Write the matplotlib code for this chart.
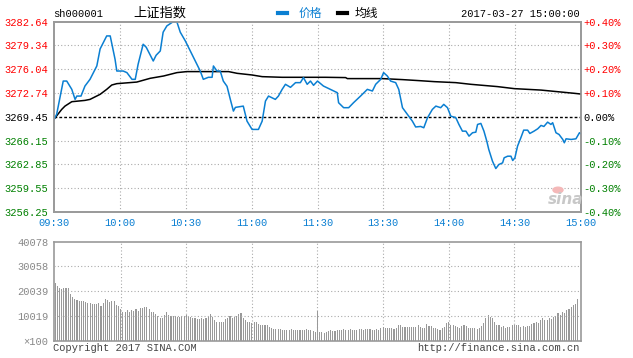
import matplotlib
matplotlib.use("Agg")
import matplotlib.pyplot as plt
from matplotlib.lines import Line2D
from matplotlib.patches import Circle

# --- dados (sh000001, 2017-03-27) ---
PREV_CLOSE = 3269.45
price_ticks = [3256.25, 3259.55, 3262.85, 3266.15, 3269.45, 3272.74, 3276.04, 3279.34, 3282.64]
pct_labels = ['-0.40%', '-0.30%', '-0.20%', '-0.10%', '0.00%', '+0.10%', '+0.20%', '+0.30%', '+0.40%']
time_ticks = [0, 30, 60, 90, 120, 150, 180, 210, 240]
time_labels = ['09:30', '10:00', '10:30', '11:00', '11:30', '13:30', '14:00', '14:30', '15:00']
vol_ticks = [0, 10019, 20039, 30058, 40078]
vol_labels = ['\u00d7100', '10019', '20039', '30058', '40078']

# minutos desde 09:30 (pregao continuo, 240 min)
price_min = [0, 1.2, 2.7, 4.2, 5.8, 8.1, 9.6, 10.4, 12.3, 14.1, 16.4, 19.5, 21.0, 24.0, 25.6,
             27.8, 28.6, 31.5, 33.2, 35.5, 37.0, 38.3, 40.6, 42.0, 45.2, 46.5, 48.4, 49.7,
             51.4, 54.3, 56.0, 57.5, 59.8, 62.8, 65.1, 66.6, 68.0, 70.3, 72.0, 72.6, 74.2,
             75.7, 77.1, 78.8, 80.3, 81.7, 82.6, 86.2, 87.9, 90.2, 93.1, 94.8, 96.3, 97.7,
             100.8, 102.2, 103.9, 105.4, 107.7, 110.0, 112.2, 113.6, 115.3, 116.8, 118.2,
             120.0, 122.7, 125.9, 129.0, 129.6, 131.9, 134.2, 136.4, 139.6, 142.7, 145.0,
             146.5, 148.8, 150.1, 151.8, 153.3, 155.6, 157.0, 158.7, 161.5, 163.2, 164.7,
             167.0, 168.4, 170.1, 172.3, 173.9, 176.1, 177.5, 179.2, 180.7, 183.0, 184.4,
             186.0, 187.6, 189.0, 190.6, 192.1, 192.9, 194.4, 195.8, 197.1, 198.0, 199.7,
             201.2, 202.6, 204.3, 205.0, 206.6, 208.1, 208.9, 209.9, 211.1, 212.6, 213.9,
             215.7, 216.7, 218.6, 220.3, 221.8, 223.1, 224.8, 226.3, 227.1, 228.6, 230.0,
             231.7, 232.4, 233.2, 235.5, 237.7, 239.3, 240.0]
price_val = [3269.08, 3269.77, 3272.09, 3274.39, 3274.39, 3273.24, 3271.85, 3272.31, 3272.31,
             3273.70, 3274.63, 3276.48, 3278.84, 3280.64, 3280.64, 3277.41, 3275.78, 3275.78,
             3275.56, 3274.63, 3274.63, 3276.71, 3279.49, 3279.07, 3277.17, 3277.96, 3278.56,
             3281.16, 3282.03, 3282.62, 3282.55, 3281.16, 3279.95, 3278.10, 3276.71, 3275.78,
             3274.63, 3274.91, 3274.91, 3276.48, 3275.78, 3275.78, 3274.39, 3273.66, 3271.85,
             3270.23, 3270.74, 3270.92, 3268.84, 3267.69, 3267.69, 3268.84, 3271.62, 3272.31,
             3271.85, 3272.31, 3273.24, 3273.94, 3273.52, 3274.17, 3274.17, 3274.87, 3273.94,
             3274.39, 3273.80, 3274.39, 3273.70, 3273.24, 3272.78, 3271.39, 3270.70, 3270.70,
             3271.39, 3272.31, 3273.24, 3273.01, 3273.94, 3274.63, 3275.56, 3275.09, 3274.39,
             3274.17, 3273.24, 3270.70, 3269.53, 3268.84, 3268.03, 3268.10, 3267.92, 3269.31,
             3270.46, 3270.92, 3270.70, 3271.16, 3270.70, 3269.53, 3269.31, 3268.38, 3267.45,
             3267.45, 3266.76, 3267.23, 3267.31, 3268.38, 3268.52, 3267.45, 3266.06, 3264.91,
             3263.28, 3262.27, 3262.83, 3263.06, 3263.76, 3263.98, 3263.98, 3263.38, 3263.76,
             3265.37, 3266.53, 3267.59, 3267.59, 3267.13, 3267.45, 3267.78, 3268.24, 3268.10,
             3268.70, 3268.38, 3268.62, 3267.23, 3266.99, 3266.30, 3265.84, 3266.39, 3266.30,
             3266.39, 3267.23, 3267.09]

avg_min = [0, 3.5, 5.0, 8.1, 14.1, 16.4, 21.0, 24.0, 26.3, 28.6, 37.7, 43.8, 49.9, 56.0,
           60.5, 79.5, 83.4, 90.2, 94.8, 103.9, 123.7, 132.8, 133.6, 149.5, 158.7, 166.2,
           173.1, 183.0, 189.8, 202.0, 209.6, 221.8, 237.0, 240.0]
avg_val = [3269.10, 3270.46, 3270.92, 3271.53, 3271.71, 3271.85, 3272.55, 3273.24, 3273.84,
           3274.03, 3274.25, 3274.77, 3275.09, 3275.56, 3275.70, 3275.70, 3275.46, 3275.23,
           3275.00, 3274.91, 3274.91, 3274.87, 3274.73, 3274.73, 3274.59, 3274.45, 3274.31,
           3274.17, 3273.94, 3273.62, 3273.34, 3273.14, 3272.69, 3272.59]

# volume por minuto (x100)
volume = [23300, 22000, 21300, 20900, 21300, 21300, 21400, 19000, 17900, 16900,
          16500, 16300, 16300, 16100, 15900, 15500, 15200, 14900, 14900, 14800,
          15200, 14100, 15500, 16800, 16500, 15900, 16300, 16100, 14500, 14100,
          12900, 11800, 11800, 12500, 11800, 12500, 12100, 12800, 12100, 13200,
          13400, 13800, 13600, 12900, 11800, 11800, 10900, 10100, 9100, 9100,
          10500, 11700, 10500, 10100, 10100, 10100, 9600, 9600, 10100, 10100,
          10500, 9600, 9600, 9100, 9100, 8700, 8700, 9100, 8700, 9100,
          9600, 10800, 9600, 8500, 7800, 7800, 7800, 7800, 8700, 9400,
          10100, 9100, 9800, 10100, 10800, 11200, 9100, 8500, 7800, 7800,
          7400, 7800, 7500, 6700, 6500, 6500, 6500, 6500, 5800, 5100,
          4800, 4700, 4700, 4700, 4500, 4400, 4400, 4400, 4700, 4400,
          4400, 4400, 4400, 4400, 4400, 4700, 4400, 4400, 4000, 3800,
          12100,
          3770, 3770, 3360, 3770, 4170, 4440, 4170, 4170, 4440, 4440,
          4440, 4840, 4440, 4440, 4840, 4440, 4440, 4440, 4840, 4840,
          4440, 4840, 4840, 4840, 4440, 4440, 4840, 4440, 5380, 5510,
          5380, 5250, 5250, 5250, 4840, 5380, 6460, 6460, 5780, 5780,
          5780, 5510, 5780, 5780, 5780, 6460, 5510, 5380, 5380, 6730,
          6190, 6190, 5380, 5380, 4840, 4440, 5110, 5780, 7130, 7530,
          6460, 6460, 6190, 5780, 5380, 6190, 6460, 6190, 5380, 5110,
          5110, 5380, 4840, 5380, 6190, 7130, 9150, 10490, 9820, 9150,
          7530, 6460, 6460, 5780, 6190, 5380, 5780, 5780, 6460, 6460,
          6460, 6460, 5780, 6190, 5780, 6190, 6190, 6730, 7130, 7530,
          7130, 8470, 9150, 8470, 8470, 9150, 8870, 9820, 10220, 11160,
          10490, 11840, 11160, 12510, 12900, 13800, 14400, 14800, 16950]

BLUE = '#0a7fd2'
RED = '#ff0000'
GREEN = '#008000'
GRID = '#aaaaaa'
FRAME = '#999999'
MONO = 'Liberation Mono'
CJK = ['Noto Sans CJK SC', 'DejaVu Sans']

fig = plt.figure(figsize=(6.33, 3.58), dpi=100)
ax1 = fig.add_axes([54 / 633, 1 - 212 / 358, 527 / 633, 190.5 / 358])
ax2 = fig.add_axes([54 / 633, 1 - 341 / 358, 527 / 633, 99.5 / 358])

# --- painel de preco ---
ax1.plot(avg_min, avg_val, color='black', lw=1.1, zorder=3)
ax1.plot(price_min, price_val, color=BLUE, lw=1.1, zorder=4)
ax1.axhline(PREV_CLOSE, color='black', lw=1.0, ls=(0, (2, 1.5)), zorder=2)
ax1.set_xlim(0, 240)
ax1.set_ylim(price_ticks[0], price_ticks[-1])
ax1.set_xticks(time_ticks)
ax1.set_xticklabels(time_labels)
ax1.set_yticks(price_ticks)
ax1.set_yticklabels(['%.2f' % v for v in price_ticks])
for v in price_ticks[1:-1]:
    if abs(v - PREV_CLOSE) > 0.01:
        ax1.axhline(v, color=GRID, lw=0.8, ls=(0, (1, 2)), zorder=1)
for t in time_ticks[1:-1]:
    ax1.axvline(t, color=GRID, lw=0.8, ls=(0, (1, 2)), zorder=1)
ax1.tick_params(length=0, labelsize=7.5, pad=4)
for lab in ax1.get_xticklabels():
    lab.set_family(MONO)
    lab.set_color(BLUE)
for lab, v in zip(ax1.get_yticklabels(), price_ticks):
    lab.set_family(MONO)
    lab.set_color(RED if v > PREV_CLOSE + 0.01 else (GREEN if v < PREV_CLOSE - 0.01 else 'black'))

axr = ax1.twinx()
axr.set_ylim(price_ticks[0], price_ticks[-1])
axr.set_yticks(price_ticks)
axr.set_yticklabels(pct_labels)
axr.tick_params(length=0, labelsize=7.5, pad=2)
for lab, v in zip(axr.get_yticklabels(), price_ticks):
    lab.set_family(MONO)
    lab.set_color(RED if v > PREV_CLOSE + 0.01 else (GREEN if v < PREV_CLOSE - 0.01 else 'black'))

for a in (ax1, axr, ax2):
    for s in a.spines.values():
        s.set_color(FRAME)
        s.set_linewidth(1.2)

# --- painel de volume ---
ax2.bar(range(len(volume)), volume, width=0.5, color='#999999', zorder=2)
ax2.set_xlim(-0.5, 240.5)
ax2.set_ylim(0, vol_ticks[-1])
ax2.set_yticks(vol_ticks)
ax2.set_yticklabels(vol_labels)
ax2.set_xticks([])
for v in vol_ticks[1:-1]:
    ax2.axhline(v, color=GRID, lw=0.8, ls=(0, (1, 2)), zorder=3)
for t in time_ticks[1:-1]:
    ax2.axvline(t, color=GRID, lw=0.8, ls=(0, (1, 2)), zorder=1)
ax2.tick_params(length=0, labelsize=7.5, pad=4, colors='#888888')
for lab in ax2.get_yticklabels():
    lab.set_family(MONO)

# --- textos ---
fig.text(53 / 633, 1 - 14 / 358, 'sh000001', family=MONO, fontsize=7.5, va='center')
fig.text(133 / 633, 1 - 13 / 358, '上证指数', family=CJK, fontsize=9.5, va='center')
fig.add_artist(Line2D([278 / 633, 287 / 633], [1 - 13 / 358] * 2, color=BLUE, lw=3,
                      transform=fig.transFigure))
fig.text(299 / 633, 1 - 13 / 358, '价格', family=CJK, color=BLUE, fontsize=8.5, va='center')
fig.add_artist(Line2D([338 / 633, 347 / 633], [1 - 13 / 358] * 2, color='black', lw=3,
                      transform=fig.transFigure))
fig.text(355 / 633, 1 - 13 / 358, '均线', family=CJK, color='black', fontsize=8.5, va='center')
fig.text(580 / 633, 1 - 14 / 358, '2017-03-27 15:00:00', family=MONO, fontsize=7.5,
         ha='right', va='center')
fig.text(53 / 633, 1 - 348 / 358, 'Copyright 2017 SINA.COM', family=MONO, fontsize=7.5,
         color='#444444', va='center')
fig.text(580 / 633, 1 - 348 / 358, 'http://finance.sina.com.cn', family=MONO, fontsize=7.5,
         color='#444444', ha='right', va='center')
# marca d'agua sina
fig.add_artist(Circle((558 / 633, 1 - 190 / 358), 5 / 633, color='#f4b8b8',
                      transform=fig.transFigure, zorder=5))
fig.text(566 / 633, 1 - 200 / 358, 'sina', fontsize=11, fontweight='bold', style='italic',
         color='#c8c8c8', ha='center', va='center', zorder=6)

fig.savefig('out.png', dpi=100)
